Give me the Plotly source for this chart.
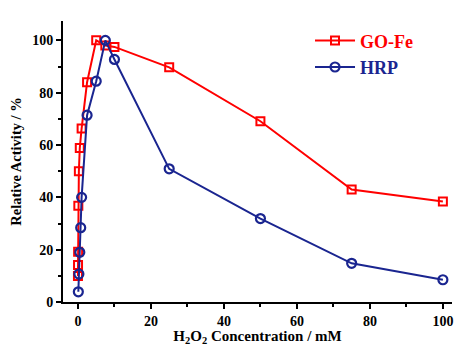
import plotly.graph_objects as go

# H2O2 concentration (mM) and relative activity (%) for each catalyst
gofe_conc = [0.0, 0.02, 0.05, 0.1, 0.25, 0.5, 1.0, 2.5, 5.0, 7.5, 10.0, 25.0, 50.0, 75.0, 100.0]
gofe_activity = [9.9, 14.1, 19.2, 36.8, 50.0, 58.9, 66.3, 84.0, 100.0, 98.0, 97.5, 89.7, 69.1, 43.0, 38.4]

hrp_conc = [0.1, 0.25, 0.5, 0.75, 1.0, 2.5, 5.0, 7.5, 10.0, 25.0, 50.0, 75.0, 100.0]
hrp_activity = [3.9, 10.7, 19.0, 28.4, 40.0, 71.4, 84.4, 100.0, 92.7, 50.9, 31.9, 14.8, 8.5]

x_ticks = [0, 20, 40, 60, 80, 100]
y_ticks = [0, 20, 40, 60, 80, 100]

RED = "#ff0000"
NAVY = "#1a2590"
FONT = "Liberation Serif"

fig = go.Figure()
fig.add_trace(go.Scatter(
    x=gofe_conc, y=gofe_activity, mode="lines+markers",
    name=f"<b><span style='color:{RED}'>GO-Fe</span></b>",
    line=dict(color=RED, width=2),
    marker=dict(symbol="square-open", size=8, color=RED, line=dict(width=2, color=RED)),
    cliponaxis=False,
))
fig.add_trace(go.Scatter(
    x=hrp_conc, y=hrp_activity, mode="lines+markers",
    name=f"<b><span style='color:{NAVY}'>HRP</span></b>",
    line=dict(color=NAVY, width=2),
    marker=dict(symbol="circle-open", size=9, color=NAVY, line=dict(width=2.2, color=NAVY)),
    cliponaxis=False,
))

axis_font = dict(family=FONT, size=14, color="black")

fig.update_layout(
    width=457, height=346,
    margin=dict(l=63, r=5, t=21, b=44),
    paper_bgcolor="white", plot_bgcolor="white",
    font=dict(family=FONT, color="black"),
    showlegend=True,
    legend=dict(
        x=0.635, y=0.995, xanchor="left", yanchor="top",
        font=dict(family=FONT, size=18),
        bgcolor="rgba(0,0,0,0)", itemwidth=40, tracegroupgap=0,
    ),
    xaxis=dict(
        range=[-4.1, 102.5], showgrid=False, zeroline=False, automargin=False,
        showline=True, linecolor="black", linewidth=2,
        ticks="outside", ticklen=5, tickwidth=2, tickcolor="black",
        tickvals=x_ticks, ticktext=[f"<b>{v}</b>" for v in x_ticks],
        tickfont=axis_font,
        minor=dict(dtick=10, tick0=0, ticks="outside", ticklen=3, tickwidth=2, tickcolor="black"),
        title=dict(text="<b>H<sub>2</sub>O<sub>2</sub> Concentration / mM</b>",
                   font=dict(family=FONT, size=15), standoff=10),
    ),
    yaxis=dict(
        range=[0, 107.4], showgrid=False, zeroline=False, automargin=False,
        showline=True, linecolor="black", linewidth=2,
        ticks="outside", ticklen=5, tickwidth=2, tickcolor="black",
        tickvals=y_ticks, ticktext=[f"<b>{v}</b>" for v in y_ticks],
        tickfont=axis_font,
        minor=dict(dtick=10, tick0=0, ticks="outside", ticklen=3, tickwidth=2, tickcolor="black"),
        title=dict(text="<b>Relative Activity / %</b>",
                   font=dict(family=FONT, size=14.5), standoff=7),
    ),
)

fig.write_html("out.html")
